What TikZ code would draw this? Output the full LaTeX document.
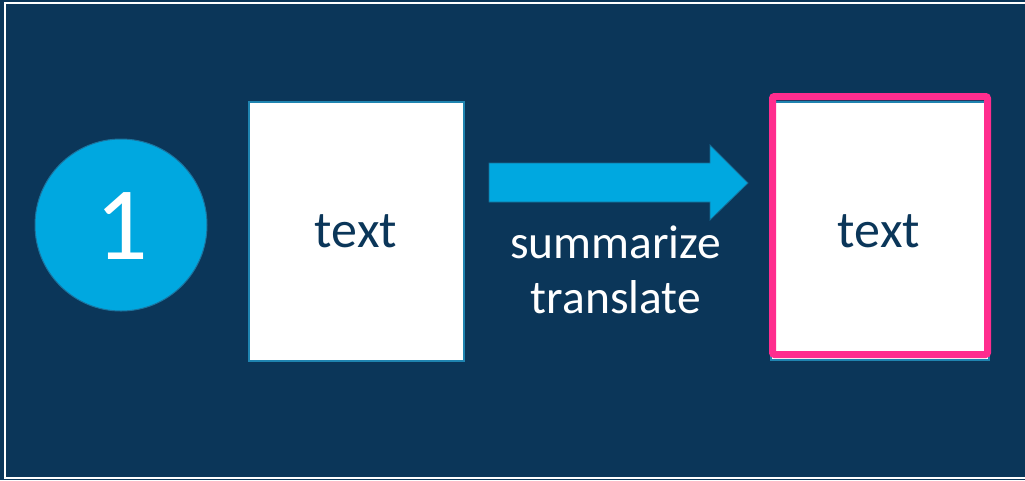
\documentclass[tikz,border=0pt]{standalone}
\usepackage{fontspec}
\setmainfont{Carlito}
\definecolor{navy}{HTML}{0B3659}
\definecolor{skyblue}{HTML}{00A8E0}
\definecolor{tealedge}{HTML}{1F84B0}
\definecolor{hotpink}{HTML}{FF2D8E}
\begin{document}
\begin{tikzpicture}[x=1pt,y=-1pt,
  page/.style={fill=navy},
  card/.style={draw=tealedge,line width=2pt,fill=white},
  cardtext/.style={text=navy,font=\fontsize{52}{60}\selectfont,anchor=base},
  steptext/.style={text=white,font=\fontsize{47.5}{56}\selectfont,anchor=base},
  badge/.style={circle,fill=skyblue,draw=tealedge!80!navy,line width=1pt,minimum size=172pt,inner sep=0pt},
  flow/.style={fill=skyblue,draw=tealedge!70!navy,line width=0.8pt,line join=miter}]
  % canvas and frame
  \useasboundingbox (0,0) rectangle (1025,480);
  \fill[page] (0,0) rectangle (1025,480);
  \begin{scope}
    \clip (0,0) rectangle (1025,480);
    \draw[white,line width=2pt] (5,3) rectangle (1040,478);
  \end{scope}

  % step number
  \node[badge] (num) at (121,225) {};
  \node[text=white,font=\fontsize{104}{110}\selectfont] (numtext) at (122,226) {1};

  % source card
  \draw[card] (249,102) rectangle (464,361);
  \node[cardtext] (srctext) at (356,247) {text};

  % operation arrow
  \draw[flow] (489,163) -- (710,163) -- (710,145) -- (748,183) -- (710,220)
    -- (710,202) -- (489,202) -- cycle;
  \node[steptext] (op1) at (615.5,258) {summarize};
  \node[steptext] (op2) at (616,313) {translate};

  % result card, highlighted
  \draw[card] (771,102) rectangle (989,360);
  \draw[hotpink,line width=7pt,rounded corners=2pt] (772.5,96.5) rectangle (987.5,354.5);
  \node[cardtext] (dsttext) at (879,247) {text};
\end{tikzpicture}
\end{document}
